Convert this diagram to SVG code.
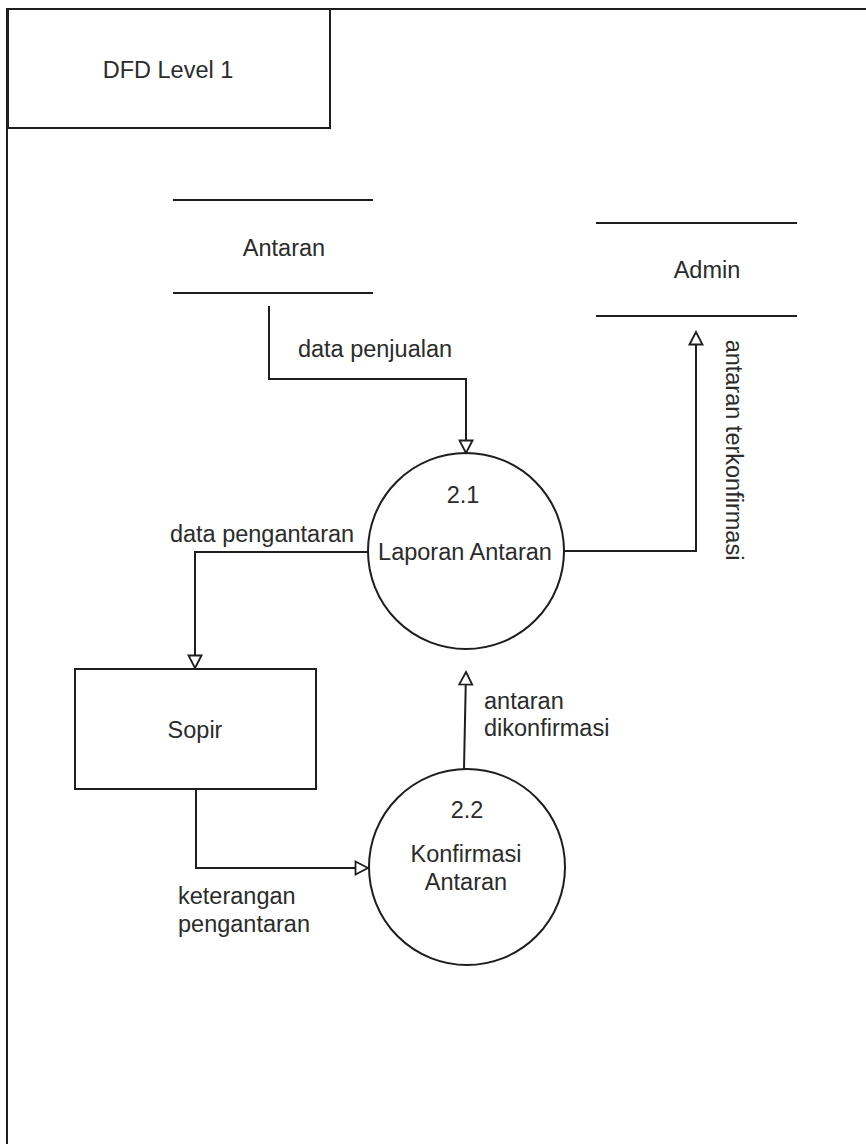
<svg xmlns="http://www.w3.org/2000/svg" width="866" height="1144" viewBox="0 0 866 1144">
  <style>
    .shape { fill: #ffffff; stroke: #1e1e1e; stroke-width: 2; }
    .rule { fill: none; stroke: #1e1e1e; stroke-width: 2; }
    .flow { fill: none; stroke: #1e1e1e; stroke-width: 2; marker-end: url(#open-arrow); }
    text { font-family: "Liberation Sans", Arial, sans-serif; font-size: 23.5px; fill: #2b2b2b; }
    .c { text-anchor: middle; }
  </style>
  <defs>
    <marker id="open-arrow" viewBox="0 0 16 16" refX="14" refY="8" markerWidth="16" markerHeight="16" markerUnits="userSpaceOnUse" orient="auto">
      <path d="M1.5,1.5 L14,8 L1.5,14.5 Z" fill="#ffffff" stroke="#1e1e1e" stroke-width="1.8" stroke-linejoin="miter"/>
    </marker>
  </defs>

  <rect width="866" height="1144" fill="#ffffff"/>

  <!-- page frame -->
  <g id="frame">
    <path class="rule" d="M7,1144 V9 H866"/>
  </g>

  <!-- title -->
  <g id="title">
    <rect class="shape" x="8" y="9" width="322" height="119"/>
    <text class="c" x="168" y="78">DFD Level 1</text>
  </g>

  <!-- data store: Antaran -->
  <g id="store-antaran">
    <line class="rule" x1="173" y1="200" x2="373" y2="200"/>
    <line class="rule" x1="173" y1="293" x2="373" y2="293"/>
    <text class="c" x="284" y="256">Antaran</text>
  </g>

  <!-- data store: Admin -->
  <g id="store-admin">
    <line class="rule" x1="596" y1="223" x2="797" y2="223"/>
    <line class="rule" x1="596" y1="316" x2="797" y2="316"/>
    <text class="c" x="707" y="278">Admin</text>
  </g>

  <!-- process 2.1 -->
  <g id="proc-2-1">
    <circle class="shape" cx="466" cy="551" r="98"/>
    <text class="c" x="463" y="503">2.1</text>
    <text class="c" x="465" y="560">Laporan Antaran</text>
  </g>

  <!-- external entity: Sopir -->
  <g id="entity-sopir">
    <rect class="shape" x="75" y="669" width="241" height="120"/>
    <text class="c" x="195" y="738">Sopir</text>
  </g>

  <!-- process 2.2 -->
  <g id="proc-2-2">
    <circle class="shape" cx="467" cy="867" r="98"/>
    <text class="c" x="467" y="818">2.2</text>
    <text class="c" x="466" y="862">Konfirmasi</text>
    <text class="c" x="466" y="890">Antaran</text>
  </g>

  <!-- data flows -->
  <g id="connectors">
    <path class="flow" d="M269,306 V379 H466 V453"/>
    <path class="flow" d="M368,552 H195 V668"/>
    <path class="flow" d="M564,551 H696 V332"/>
    <path class="flow" d="M196,789 V868 H368"/>
    <path class="flow" d="M464,769 L466,672"/>
  </g>

  <!-- flow labels -->
  <g id="labels">
    <text class="c" x="375" y="357">data penjualan</text>
    <text class="c" x="262" y="542">data pengantaran</text>
    <text class="c" transform="translate(726,450) rotate(90)">antaran terkonfirmasi</text>
    <text x="484" y="709">antaran</text>
    <text x="484" y="736">dikonfirmasi</text>
    <text x="178" y="904">keterangan</text>
    <text x="178" y="932">pengantaran</text>
  </g>
</svg>
